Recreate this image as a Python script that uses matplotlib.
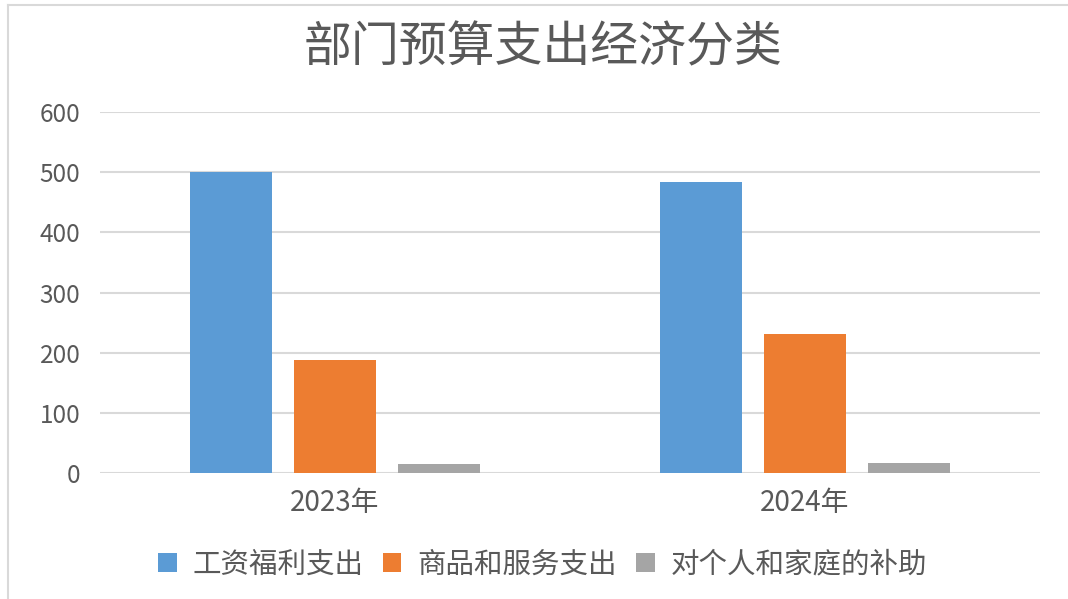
import matplotlib
matplotlib.use("Agg")
import matplotlib.pyplot as plt
import numpy as np
from matplotlib.patches import Patch
from matplotlib.lines import Line2D

plt.rcParams['font.family'] = ['Noto Sans CJK SC', 'DejaVu Sans']

# 数据
years = ['2023年', '2024年']
series_names = ['工资福利支出', '商品和服务支出', '对个人和家庭的补助']
wages = [500, 483]
goods = [188, 231]
subsidy = [15, 16]
colors = ['#5B9BD5', '#ED7D31', '#A5A5A5']

fig = plt.figure(figsize=(10.68, 5.99), dpi=100)
ax = fig.add_axes([0.0936, 0.2103, 0.8802, 0.6027])

x = np.arange(len(years))
w = 0.174
step = 0.221
for i, vals in enumerate([wages, goods, subsidy]):
    ax.bar(x + (i - 1) * step, vals, width=w, color=colors[i], zorder=3)

ax.set_xlim(-0.5, 1.5)
ax.set_ylim(0, 600)
ax.set_yticks(np.arange(0, 601, 100))
ax.set_xticks(x)
ax.set_xticklabels(years)
ax.grid(axis='y', color='#D9D9D9', linewidth=1.5, zorder=0)
for s in ax.spines.values():
    s.set_visible(False)
ax.tick_params(axis='y', length=0, pad=14, labelsize=17.5, labelcolor='#595959')
ax.tick_params(axis='x', length=0, pad=11, labelsize=20, labelcolor='#595959')

fig.text(0.508, 0.92, '部门预算支出经济分类', ha='center', va='center',
         fontsize=34.5, color='#595959')

handles = [Patch(facecolor=c, edgecolor='none') for c in colors]
fig.legend(handles, series_names, loc='center', bbox_to_anchor=(0.508, 0.058),
           ncol=3, frameon=False, fontsize=20.5, handlelength=0.64, handleheight=0.64,
           handletextpad=0.55, columnspacing=0.7, labelcolor='#595959')

# 外框
fig.add_artist(Line2D([8 / 1068, 1.0], [1 - 5 / 599, 1 - 5 / 599],
                      transform=fig.transFigure, color='#D9D9D9', linewidth=1.5))
fig.add_artist(Line2D([8 / 1068, 8 / 1068], [0, 1 - 5 / 599],
                      transform=fig.transFigure, color='#D9D9D9', linewidth=1.5))

fig.savefig('out.png', dpi=100)
